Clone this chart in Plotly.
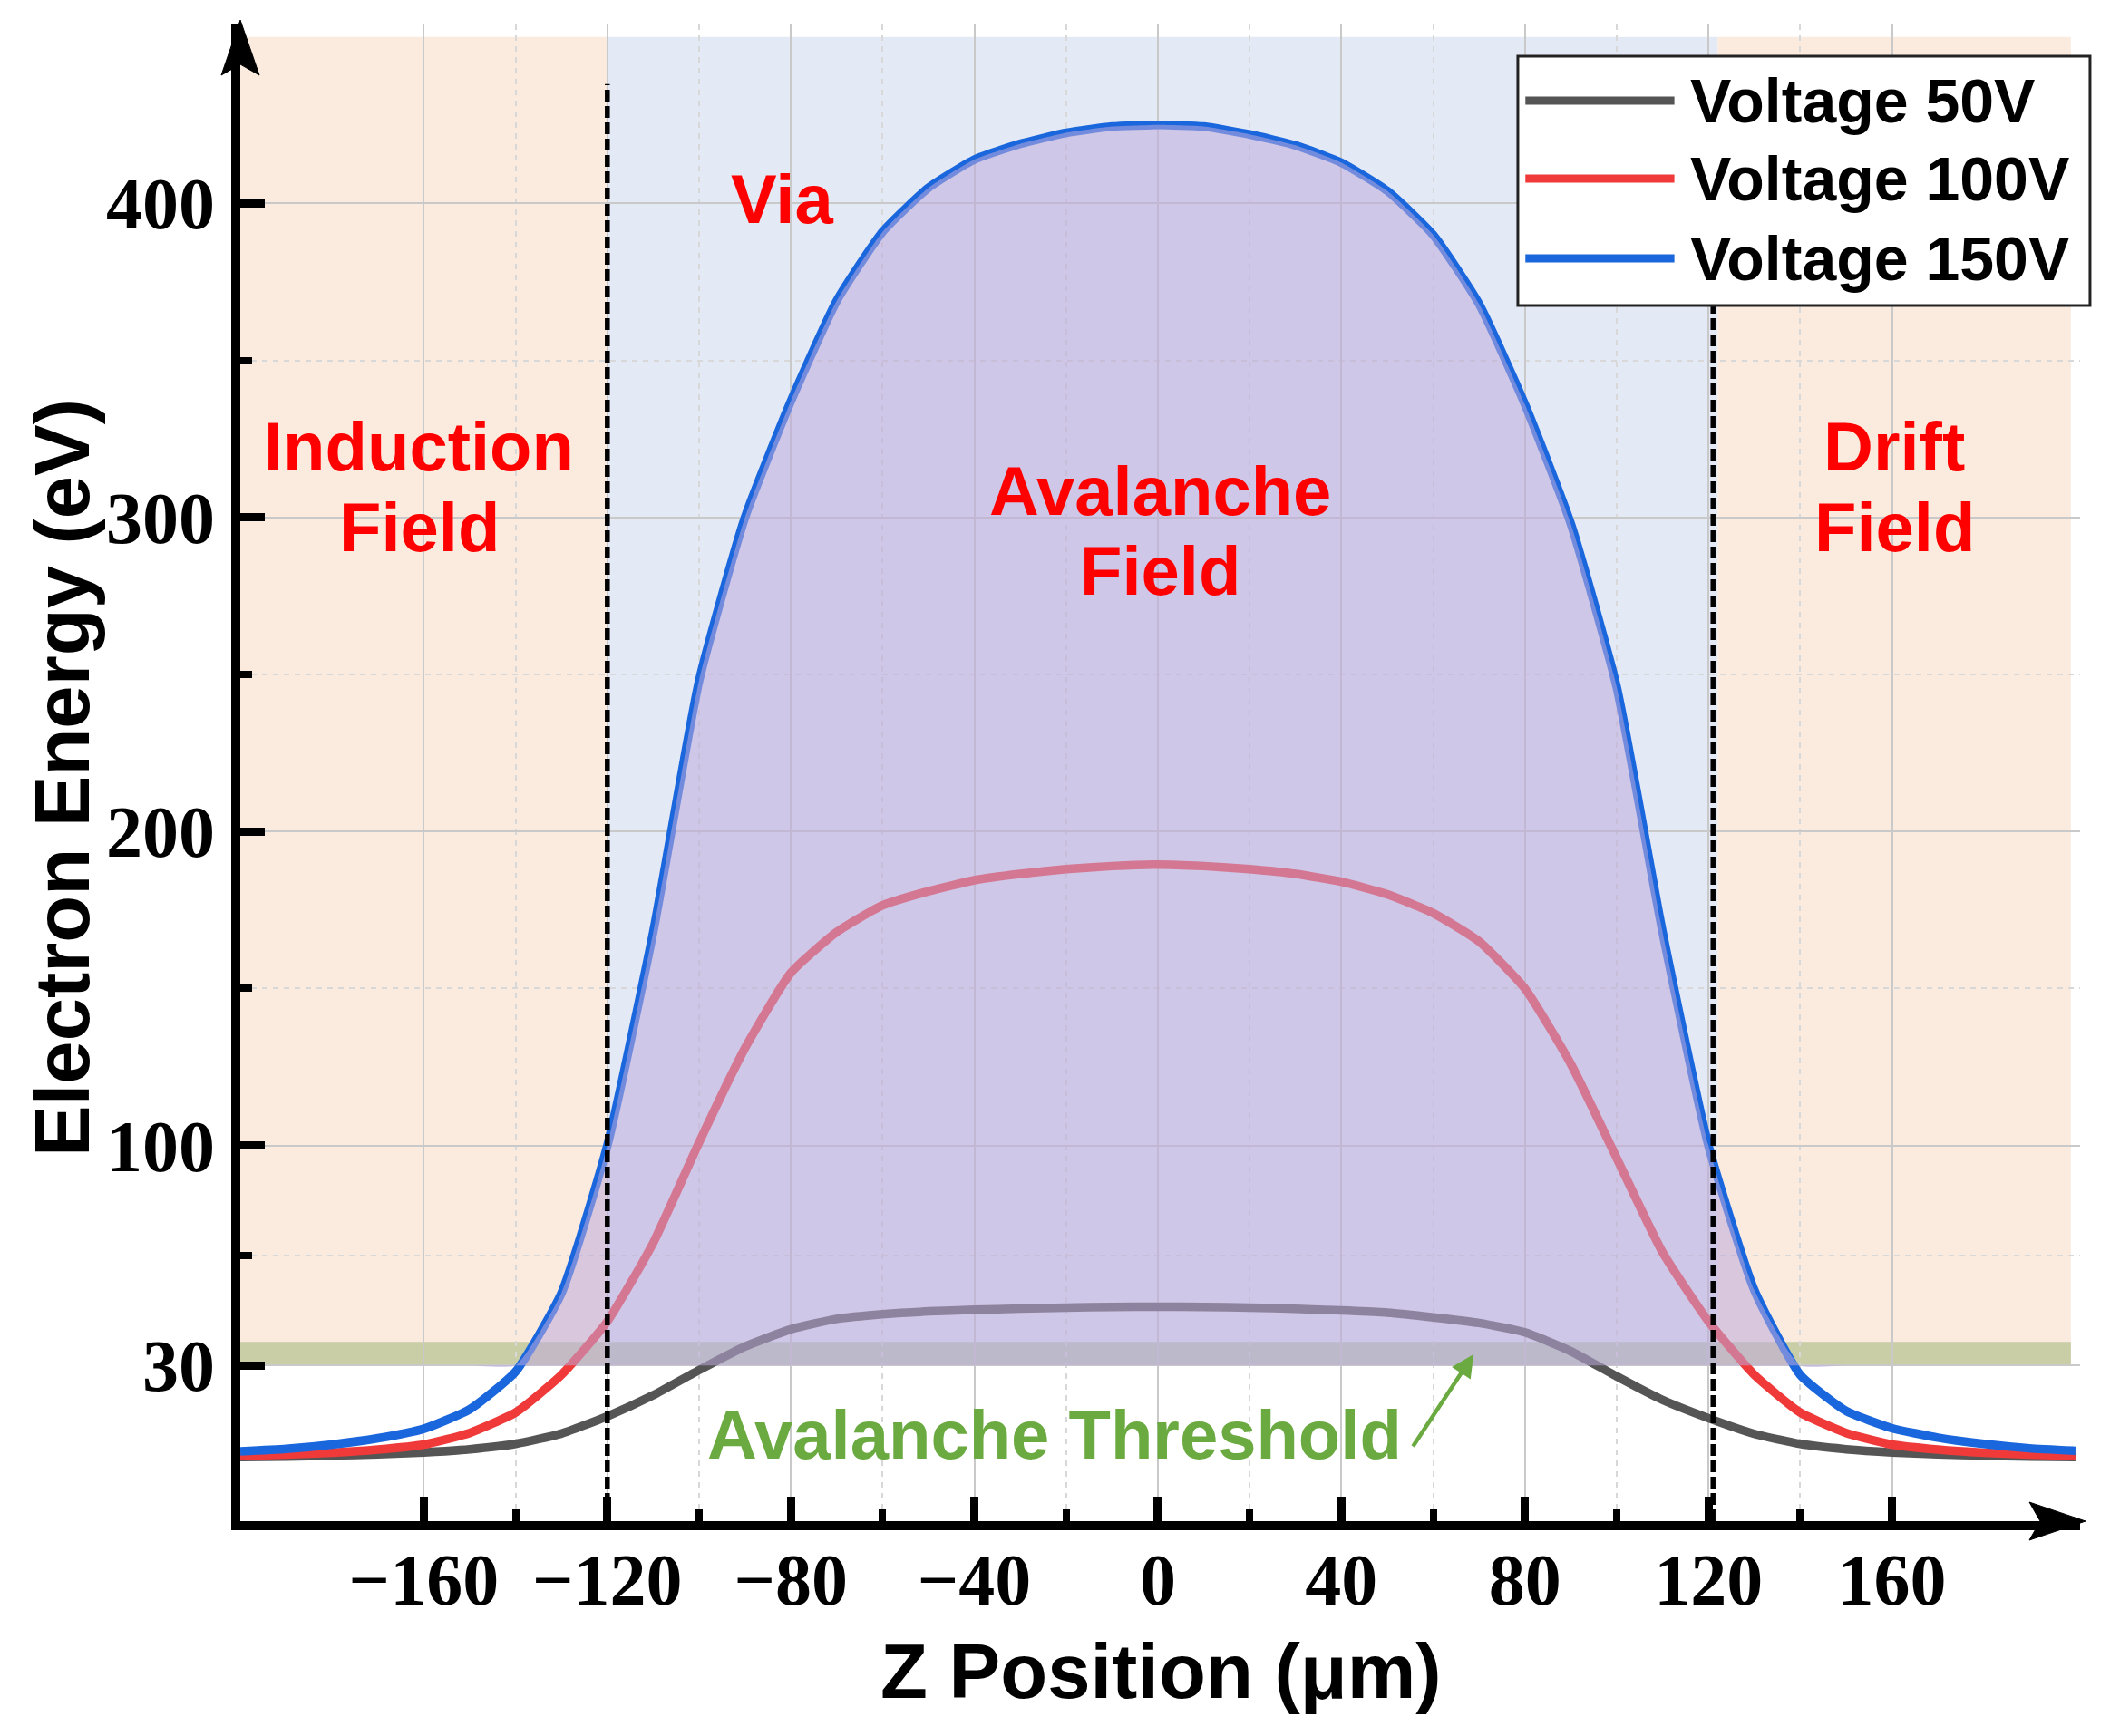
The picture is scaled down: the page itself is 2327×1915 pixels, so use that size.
import numpy as np
import plotly.graph_objects as go

# ---------------- data ----------------
Z = list(range(-200, 201, 10))
E50 = [0.8, 1.0, 1.3, 1.7, 2.3, 3.3, 5.0, 8.3, 13.8, 20.5, 28.5, 36.0, 41.5, 44.8, 46.3, 47.2, 47.7, 48.1, 48.4, 48.6, 48.7,
       48.6, 48.4, 48.0, 47.5, 46.8, 45.3, 43.5, 40.5, 34.5, 26.5, 19.0, 13.2, 8.2, 5.0, 3.3, 2.3, 1.7, 1.3, 1.0, 0.8]
E100 = [1.2, 1.6, 2.2, 3.2, 4.8, 8.5, 15.0, 27.0, 44.0, 69.0, 101.0, 131.0, 155.0, 168.0, 176.5, 181.0, 184.5, 186.5, 188.0, 189.0, 189.5,
        189.0, 188.0, 186.5, 184.0, 180.0, 174.0, 165.0, 150.0, 126.0, 96.0, 66.0, 44.0, 27.0, 15.0, 8.5, 4.8, 3.2, 2.2, 1.6, 1.2]
E150 = [2.6, 3.4, 4.8, 6.8, 9.8, 16.0, 28.0, 53.0, 100.0, 168.0, 248.0, 300.0, 337.0, 369.0, 391.0, 405.0, 414.0, 419.0, 422.5, 424.5, 425.0,
        424.5, 422.0, 418.5, 413.0, 404.0, 390.0, 368.0, 336.0, 298.0, 246.0, 168.0, 100.0, 54.0, 27.0, 15.5, 10.0, 7.0, 5.0, 3.6, 2.8]
SERIES_NAMES = ["Voltage 50V", "Voltage 100V", "Voltage 150V"]
SERIES_COLORS = ["#555555", "#F03A3A", "#1A66DD"]

X_MAJOR = [-160, -120, -80, -40, 0, 40, 80, 120, 160]
X_MINOR = [-140, -100, -60, -20, 20, 60, 100, 140]
Y_MAJOR = [30, 100, 200, 300, 400]
Y_MINOR = [65, 150, 250, 350]
X_TICKTEXT = ["\u2212160", "\u2212120", "\u221280", "\u221240", "0", "40", "80", "120", "160"]

REGION_EDGES = [-200, -120, 122, 199]      # induction | via | drift
REGION_TOP = 453
THRESHOLD = [30, 37.5]                     # avalanche threshold band (eV)
VIA_LINES = [-120, 121]
VIA_LINE_TOP = 438
X_RANGE = [-200, 201]
Y_RANGE = [-19.6, 457]

# ---------------- figure ----------------
fig = go.Figure()

for name, ys, col in zip(SERIES_NAMES, [E50, E100, E150], SERIES_COLORS):
    fig.add_trace(go.Scatter(x=Z, y=ys, mode="lines", name=name,
                             line=dict(color=col, width=9.5, shape="spline", smoothing=0.5),
                             showlegend=False))

base = [THRESHOLD[0]] * len(Z)
fig.add_trace(go.Scatter(x=Z, y=base, mode="lines", line=dict(width=0),
                         showlegend=False, hoverinfo="skip"))
fig.add_trace(go.Scatter(x=Z, y=np.maximum(np.array(E150), THRESHOLD[0]), mode="lines",
                         line=dict(width=0, shape="spline", smoothing=0.5), fill="tonexty",
                         fillcolor="rgba(190,170,218,0.55)", showlegend=False, hoverinfo="skip"))

shapes = []
region_cols = ["#FBEBDF", "#E4EAF5", "#FBEBDF"]
for i, c in enumerate(region_cols):
    shapes.append(dict(type="rect", xref="x", yref="y", x0=REGION_EDGES[i], x1=REGION_EDGES[i + 1],
                       y0=THRESHOLD[0], y1=REGION_TOP, fillcolor=c, line=dict(width=0), layer="below"))
shapes.append(dict(type="rect", xref="x", yref="y", x0=REGION_EDGES[0], x1=REGION_EDGES[-1],
                   y0=THRESHOLD[0], y1=THRESHOLD[1], fillcolor="rgba(52,119,0,0.25)",
                   line=dict(width=0), layer="below"))
for xv in VIA_LINES:
    shapes.append(dict(type="line", xref="x", yref="y", x0=xv, x1=xv, y0=Y_RANGE[0], y1=VIA_LINE_TOP,
                       line=dict(color="black", width=5.5, dash="13px,5px"), layer="above"))
hw = 21 / 2029
hh = 21 / 1651
shapes.append(dict(type="path", xref="paper", yref="paper",
                   path=f"M {-hw},{1-56/1651} L 0,1.003 L {hw},{1-56/1651} L 0,{1-44/1651} Z",
                   fillcolor="black", line=dict(color="black", width=1), layer="above"))
shapes.append(dict(type="path", xref="paper", yref="paper",
                   path=f"M {1-56/2029},{-hh} L 1.003,0 L {1-56/2029},{hh} L {1-44/2029},0 Z",
                   fillcolor="black", line=dict(color="black", width=1), layer="above"))

# manual legend
lx0, lx1, ly0, ly1 = 0.6944, 1.0054, 0.8122, 0.9788
shapes.append(dict(type="rect", xref="paper", yref="paper", x0=lx0, x1=lx1, y0=ly0, y1=ly1,
                   fillcolor="white", line=dict(color="#222222", width=3), layer="above"))
row_y = [0.9491, 0.8970, 0.8437]
annotations = []
for name, col, ry in zip(SERIES_NAMES, SERIES_COLORS, row_y):
    shapes.append(dict(type="line", xref="paper", yref="paper", x0=0.6985, x1=0.7795, y0=ry, y1=ry,
                       line=dict(color=col, width=9), layer="above"))
    annotations.append(dict(xref="paper", yref="paper", x=0.7870, y=ry, text=name, showarrow=False,
                            xanchor="left", yanchor="middle",
                            font=dict(family="Liberation Sans", size=68, color="black", weight="bold")))

red = "#FF0000"
lab_font = dict(family="Liberation Sans", size=76, color=red, weight="bold")
labels = [("Induction", -161, 322.5), ("Field", -161, 297),
          ("Avalanche", 0.5, 308.5), ("Field", 0.5, 283),
          ("Drift", 160.5, 322.5), ("Field", 160.5, 297),
          ("Via", -82, 401.5)]
for t, xx, yy in labels:
    annotations.append(dict(x=xx, y=yy, xref="x", yref="y", text=t, showarrow=False,
                            xanchor="center", yanchor="middle", font=lab_font))

green = "#6AAA40"
annotations.append(dict(x=-22.5, y=8.0, xref="x", yref="y", text="Avalanche Threshold", showarrow=False,
                        xanchor="center", yanchor="middle",
                        font=dict(family="Liberation Sans", size=76, color=green, weight="bold")))
annotations.append(dict(x=68.8, y=33.5, ax=55.4, ay=3.8, xref="x", yref="y", axref="x", ayref="y",
                        text="", showarrow=True, arrowhead=2, arrowsize=1.1, arrowwidth=4.5,
                        arrowcolor=green))

annotations.append(dict(xref="paper", yref="paper", x=-0.0966, y=0.4967, text="Electron Energy (eV)",
                        textangle=-90, showarrow=False, xanchor="center", yanchor="middle",
                        font=dict(family="Liberation Sans", size=85, color="black", weight="bold")))
annotations.append(dict(xref="paper", yref="paper", x=0.5007, y=-0.1005, text="Z Position (\u03bcm)",
                        showarrow=False, xanchor="center", yanchor="middle",
                        font=dict(family="Liberation Sans", size=85, color="black", weight="bold")))

tick_font = dict(family="Liberation Serif", size=80, color="black", weight="bold")
fig.update_layout(
    width=2319, height=1907,
    margin=dict(l=257, r=33, t=19, b=237),
    plot_bgcolor="white", paper_bgcolor="white",
    shapes=shapes, annotations=annotations, showlegend=False,
    xaxis=dict(range=X_RANGE, tickmode="array", tickvals=X_MAJOR, ticktext=X_TICKTEXT,
               ticks="inside", ticklen=27, tickwidth=9, tickcolor="black",
               showline=True, linecolor="black", linewidth=10,
               showgrid=True, gridcolor="#C9C9C9", gridwidth=2, zeroline=False,
               tickfont=tick_font, ticklabelstandoff=-14,
               minor=dict(tickmode="array", tickvals=X_MINOR, ticks="inside", ticklen=13, tickwidth=8,
                          tickcolor="black", showgrid=True, gridcolor="#D8D8D8", gridwidth=2,
                          griddash="6px,6px")),
    yaxis=dict(range=Y_RANGE, tickmode="array", tickvals=Y_MAJOR, ticktext=[str(v) for v in Y_MAJOR],
               ticks="inside", ticklen=27, tickwidth=9, tickcolor="black",
               showline=True, linecolor="black", linewidth=10,
               showgrid=True, gridcolor="#C9C9C9", gridwidth=2, zeroline=False,
               tickfont=tick_font, ticklabelstandoff=2,
               minor=dict(tickmode="array", tickvals=Y_MINOR, ticks="inside", ticklen=13, tickwidth=8,
                          tickcolor="black", showgrid=True, gridcolor="#D8D8D8", gridwidth=2,
                          griddash="6px,6px")),
)

fig.write_html("out.html")
